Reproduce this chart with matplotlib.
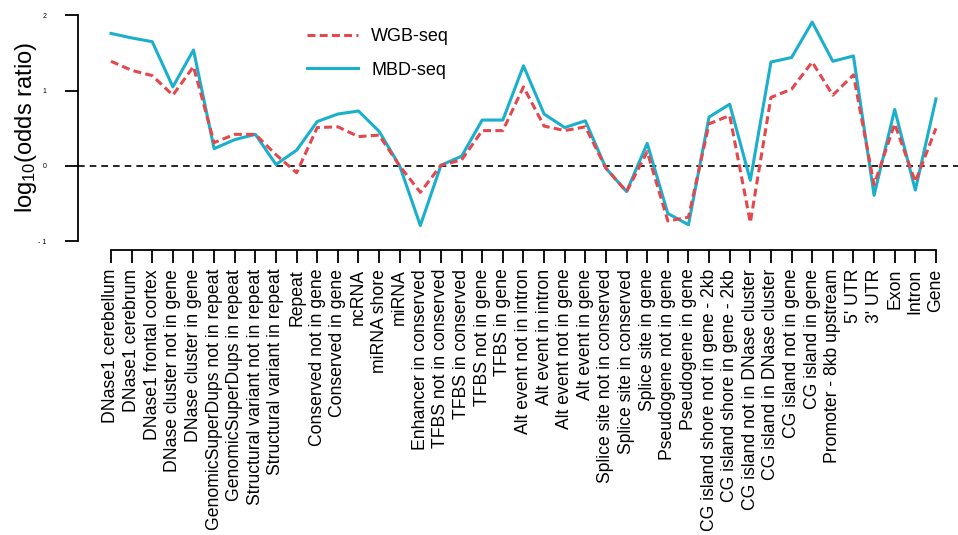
import numpy as np
import matplotlib
matplotlib.use("Agg")
import matplotlib.pyplot as plt

plt.rcParams['font.family'] = ['Liberation Sans', 'DejaVu Sans']
plt.rcParams['mathtext.default'] = 'regular'

# genomic feature categories along the x axis
features = [
    "DNase1 cerebellum", "DNase1 cerebrum", "DNase1 frontal cortex",
    "DNase cluster not in gene", "DNase cluster in gene",
    "GenomicSuperDups not in repeat", "GenomicSuperDups in repeat",
    "Structural variant not in repeat", "Structural variant in repeat",
    "Repeat", "Conserved not in gene", "Conserved in gene", "ncRNA",
    "miRNA shore", "miRNA", "Enhancer in conserved",
    "TFBS not in conserved", "TFBS in conserved", "TFBS not in gene",
    "TFBS in gene", "Alt event not in intron", "Alt event in intron",
    "Alt event not in gene", "Alt event in gene",
    "Splice site not in conserved", "Splice site in conserved",
    "Splice site in gene", "Pseudogene not in gene", "Pseudogene in gene",
    "CG island shore not in gene - 2kb", "CG island shore in gene - 2kb",
    "CG island not in DNase cluster", "CG island in DNase cluster",
    "CG island not in gene", "CG island in gene",
    "Promoter - 8kb upstream", "5' UTR", "3' UTR", "Exon", "Intron", "Gene",
]

# log10 odds ratios
wgb_seq = [1.39, 1.27, 1.20, 0.94, 1.32, 0.31, 0.42, 0.42, 0.15, -0.09,
           0.51, 0.52, 0.39, 0.41, 0.00, -0.35, 0.01, 0.08, 0.47, 0.47,
           1.05, 0.53, 0.47, 0.52, -0.03, -0.34, 0.19, -0.73, -0.68, 0.56,
           0.67, -0.75, 0.91, 1.02, 1.38, 0.94, 1.21, -0.25, 0.56, -0.21,
           0.50]
mbd_seq = [1.76, 1.70, 1.65, 1.05, 1.54, 0.23, 0.35, 0.42, 0.02, 0.21,
           0.59, 0.69, 0.73, 0.46, 0.00, -0.79, 0.01, 0.13, 0.61, 0.61,
           1.33, 0.69, 0.51, 0.60, -0.03, -0.34, 0.30, -0.63, -0.78, 0.65,
           0.82, -0.19, 1.38, 1.44, 1.91, 1.39, 1.46, -0.39, 0.75, -0.32,
           0.89]

x = np.arange(len(features))

fig = plt.figure(figsize=(9.58, 5.35), dpi=100)
ax = fig.add_axes([78 / 958, 1 - 250 / 535, 1 - 78 / 958, 245 / 535])

ax.axhline(0, color='black', lw=1.2, linestyle=(0, (4, 3)), zorder=1)
ax.plot(x, wgb_seq, color='#E2484E', lw=2.2, linestyle=(0, (2.6, 1.4)),
        label='WGB-seq', zorder=3)
ax.plot(x, mbd_seq, color='#1AAFCB', lw=2.2, label='MBD-seq', zorder=2)

ax.set_xlim(-1.6, 41.07)
ax.set_ylim(-1.115, 2.137)

# R-style detached axes
for side in ['top', 'right']:
    ax.spines[side].set_visible(False)
ax.spines['left'].set_bounds(-1, 2)
ax.spines['bottom'].set_bounds(0, len(features) - 1)
ax.spines['left'].set_linewidth(1.3)
ax.spines['bottom'].set_linewidth(1.3)

ax.set_yticks([-1, 0, 1, 2])
ax.set_yticklabels(['- 1', '0', '1', '2'], fontsize=5)
ax.tick_params(axis='y', length=9.5, width=1.3, pad=13)

ax.set_xticks(x)
ax.set_xticklabels(features, rotation=90, fontsize=12.7)
ax.tick_params(axis='x', length=9.5, width=1.3, pad=4)

ax.set_ylabel(r'log$_{10}$(odds ratio)', fontsize=17)
ax.yaxis.set_label_coords(-39 / 880, 0.5)

leg = ax.legend(loc='upper left', bbox_to_anchor=(291 / 958, 1 - 12 / 535),
                bbox_transform=fig.transFigure, frameon=False, fontsize=13,
                handlelength=2.8, handletextpad=0.75, labelspacing=0.9)

fig.savefig('out.png', dpi=100)
